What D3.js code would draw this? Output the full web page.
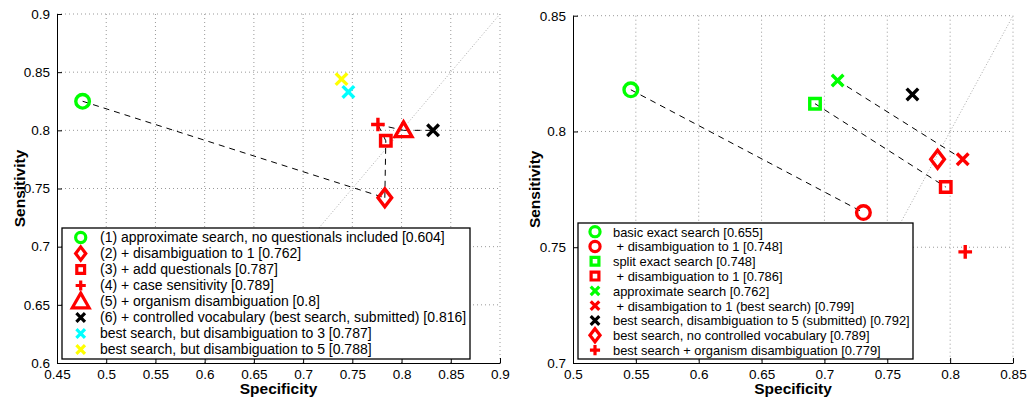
<!DOCTYPE html>
<html>
<head>
<meta charset="utf-8">
<script src="https://cdn.jsdelivr.net/npm/d3@7"></script>
<style>
body { margin: 0; background: #fff; }
svg { font-family: "Liberation Sans", Arial, sans-serif; }
</style>
</head>
<body>
<svg id="chart" width="1027" height="397"></svg>
<script>
// ---- left panel data
var leftLabels = [
    "(1) approximate search, no questionals included [0.604]",
    "(2) + disambiguation to 1 [0.762]",
    "(3) + add questionals [0.787]",
    "(4) + case sensitivity [0.789]",
    "(5) + organism disambiguation [0.8]",
    "(6) + controlled vocabulary (best search, submitted) [0.816]",
    "best search, but disambiguation to 3 [0.787]",
    "best search, but disambiguation to 5 [0.788]"
];
var leftSpec = [0.476, 0.783, 0.784, 0.776, 0.802, 0.832, 0.746, 0.739];
var leftSens = [0.825, 0.742, 0.791, 0.805, 0.800, 0.800, 0.833, 0.844];
var leftXTicks = [0.45, 0.5, 0.55, 0.6, 0.65, 0.7, 0.75, 0.8, 0.85, 0.9];
var leftYTicks = [0.6, 0.65, 0.7, 0.75, 0.8, 0.85, 0.9];
var leftLinks = [[0, 1], [1, 2], [2, 3], [3, 4], [4, 5]];

// ---- right panel data
var rightLabels = [
    "basic exact search [0.655]",
    " + disambiguation to 1 [0.748]",
    "split exact search [0.748]",
    " + disambiguation to 1 [0.786]",
    "approximate search [0.762]",
    " + disambigation to 1 (best search) [0.799]",
    "best search, disambiguation to 5 (submitted) [0.792]",
    "best search, no controlled vocabulary [0.789]",
    "best search + organism disambiguation [0.779]"
];
var rightSpec = [0.546, 0.731, 0.6925, 0.7965, 0.7105, 0.810, 0.770, 0.790, 0.812];
var rightSens = [0.818, 0.765, 0.812, 0.776, 0.822, 0.788, 0.816, 0.788, 0.748];
var rightXTicks = [0.5, 0.55, 0.6, 0.65, 0.7, 0.75, 0.8, 0.85];
var rightYTicks = [0.7, 0.75, 0.8, 0.85];
var rightLinks = [[0, 1], [2, 3], [4, 5]];

// ---- marker styles
var leftMarkers = ["circle", "diamond", "square", "plus", "triangle", "x", "x", "x"];
var leftColors = ["#00ff00", "#ff0000", "#ff0000", "#ff0000", "#ff0000", "#000000", "#00ffff", "#ffff00"];
var rightMarkers = ["circle", "circle", "square", "square", "x", "x", "x", "diamond", "plus"];
var rightColors = ["#00ff00", "#ff0000", "#00ff00", "#ff0000", "#00ff00", "#ff0000", "#000000", "#ff0000", "#ff0000"];

var svg = d3.select("#chart");

function markerPath(type, k) {
    switch (type) {
        case "circle": var r = 6.5 * k; return "M" + r + ",0A" + r + "," + r + " 0 1 1 " + (-r) + ",0A" + r + "," + r + " 0 1 1 " + r + ",0Z";
        case "diamond": return "M0," + (-8.5 * k) + "L" + (6.5 * k) + ",0L0," + (8.5 * k) + "L" + (-6.5 * k) + ",0Z";
        case "square": var s = 5 * k; return "M" + (-s) + "," + (-s) + "h" + 2 * s + "v" + 2 * s + "h" + (-2 * s) + "Z";
        case "plus": var p = 6.5 * k; return "M" + (-p) + ",0H" + p + "M0," + (-p) + "V" + p;
        case "triangle": return "M0," + (-8 * k) + "L" + (8 * k) + "," + (6 * k) + "L" + (-8 * k) + "," + (6 * k) + "Z";
        case "x": var q = 5.5 * k; return "M" + (-q) + "," + (-q) + "L" + q + "," + q + "M" + (-q) + "," + q + "L" + q + "," + (-q);
    }
}

function drawPanel(cfg) {
    var x = d3.scaleLinear().domain(cfg.xDomain).range([cfg.left, cfg.right]);
    var y = d3.scaleLinear().domain(cfg.yDomain).range([cfg.bottom, cfg.top]);
    var g = svg.append("g");

    // grid
    g.selectAll(".gx").data(cfg.xTicks.slice(1)).enter().append("line")
        .attr("x1", function (d) { return x(d); }).attr("x2", function (d) { return x(d); })
        .attr("y1", cfg.top).attr("y2", cfg.bottom)
        .attr("stroke", "#999").attr("stroke-dasharray", "1,3");
    g.selectAll(".gy").data(cfg.yTicks.slice(1)).enter().append("line")
        .attr("y1", function (d) { return y(d); }).attr("y2", function (d) { return y(d); })
        .attr("x1", cfg.left).attr("x2", cfg.right)
        .attr("stroke", "#999").attr("stroke-dasharray", "1,3");

    // diagonal y = x
    var lo = Math.max(cfg.xDomain[0], cfg.yDomain[0]), hi = Math.min(cfg.xDomain[1], cfg.yDomain[1]);
    g.append("line")
        .attr("x1", x(lo)).attr("y1", y(lo)).attr("x2", x(hi)).attr("y2", y(hi))
        .attr("stroke", "#aaa").attr("stroke-dasharray", "1,2");

    // axes
    var xAxis = d3.axisBottom(x).tickValues(cfg.xTicks).tickFormat(d3.format("")).tickSizeInner(-5).tickSizeOuter(0).tickPadding(6);
    var yAxis = d3.axisLeft(y).tickValues(cfg.yTicks).tickFormat(d3.format("")).tickSizeInner(-5).tickSizeOuter(0).tickPadding(7);
    var gx = g.append("g").attr("transform", "translate(0," + cfg.bottom + ")").call(xAxis);
    var gy = g.append("g").attr("transform", "translate(" + cfg.left + ",0)").call(yAxis);
    [gx, gy].forEach(function (a) {
        a.selectAll("text").attr("font-size", 13.5).attr("fill", "#000").attr("font-family", "Liberation Sans, Arial, sans-serif");
        a.select(".domain").attr("stroke", "#000");
    });

    g.append("text").attr("x", (cfg.left + cfg.right) / 2).attr("y", 394)
        .attr("text-anchor", "middle").attr("font-weight", "bold").attr("font-size", 15.5).text("Specificity");
    g.append("text").attr("transform", "translate(" + cfg.ylabX + "," + (cfg.top + cfg.bottom) / 2 + ") rotate(-90)")
        .attr("text-anchor", "middle").attr("font-weight", "bold").attr("font-size", 15.5).text("Sensitivity");

    // dashed links
    g.selectAll(".link").data(cfg.links).enter().append("line")
        .attr("x1", function (d) { return x(cfg.spec[d[0]]); }).attr("y1", function (d) { return y(cfg.sens[d[0]]); })
        .attr("x2", function (d) { return x(cfg.spec[d[1]]); }).attr("y2", function (d) { return y(cfg.sens[d[1]]); })
        .attr("stroke", "#000").attr("stroke-dasharray", "6,5");

    // markers
    g.selectAll(".pt").data(cfg.spec).enter().append("path")
        .attr("transform", function (d, i) { return "translate(" + x(d) + "," + y(cfg.sens[i]) + ")"; })
        .attr("d", function (d, i) { return markerPath(cfg.markers[i], 1.05); })
        .attr("fill", "none")
        .attr("stroke", function (d, i) { return cfg.colors[i]; })
        .attr("stroke-width", 3.4);

    // legend
    var lg = g.append("g");
    lg.append("rect").attr("x", cfg.legend[0]).attr("y", cfg.legend[1])
        .attr("width", cfg.legend[2]).attr("height", cfg.legend[3])
        .attr("fill", "#fff").attr("stroke", "#000").attr("stroke-width", 1.3);
    var row = lg.selectAll(".row").data(cfg.labels).enter().append("g")
        .attr("transform", function (d, i) { return "translate(0," + (cfg.rowY + i * cfg.rowStep) + ")"; });
    row.append("path")
        .attr("transform", "translate(" + cfg.markX + ",0)")
        .attr("d", function (d, i) { return markerPath(cfg.markers[i], cfg.markers[i] == "triangle" ? 1.05 : 0.78); })
        .attr("fill", "none")
        .attr("stroke", function (d, i) { return cfg.colors[i]; })
        .attr("stroke-width", 3.2);
    row.append("text").attr("x", cfg.textX).attr("y", 4.8)
        .attr("font-size", cfg.fontSize).attr("xml:space", "preserve").style("white-space", "pre")
        .text(function (d) { return d; });
}

drawPanel({
    xDomain: [0.45, 0.9], yDomain: [0.6, 0.9],
    left: 57, right: 500, top: 14, bottom: 363, ylabX: 25,
    xTicks: leftXTicks, yTicks: leftYTicks,
    spec: leftSpec, sens: leftSens, links: leftLinks,
    markers: leftMarkers, colors: leftColors, labels: leftLabels,
    legend: [62, 228, 408, 131], rowY: 237.5, rowStep: 16, markX: 80.7, textX: 100, fontSize: 14
});
drawPanel({
    xDomain: [0.5, 0.85], yDomain: [0.7, 0.85],
    left: 573, right: 1013, top: 15.7, bottom: 363, ylabX: 540,
    xTicks: rightXTicks, yTicks: rightYTicks,
    spec: rightSpec, sens: rightSens, links: rightLinks,
    markers: rightMarkers, colors: rightColors, labels: rightLabels,
    legend: [578, 223, 335, 136], rowY: 231.7, rowStep: 14.8, markX: 595, textX: 613, fontSize: 12.9
});
</script>
</body>
</html>
